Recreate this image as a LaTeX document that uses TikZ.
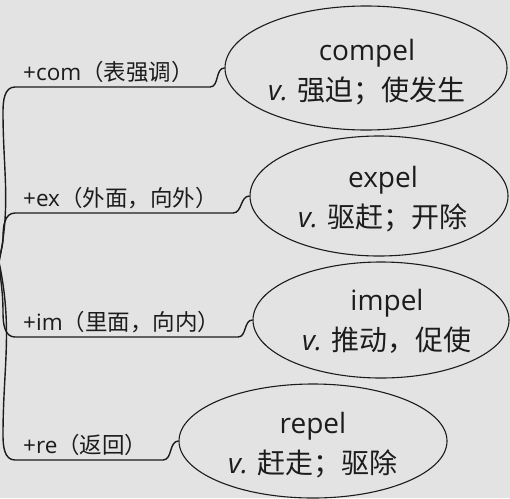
\documentclass[tikz,border=0pt]{standalone}
\usepackage{fontspec}
\setmainfont{Open Sans}
\newfontfamily\cjk{Noto Sans CJK SC}
\usetikzlibrary{shapes.geometric}
\definecolor{bg}{RGB}{227,227,227}
\definecolor{ink}{RGB}{28,28,28}
\tikzset{
  wordbox/.style={shape=ellipse, draw=ink, line width=1.1pt, inner sep=0pt},
  wordtext/.style={align=center, inner sep=0pt, text=ink, font=\fontsize{28}{40}\selectfont},
  lbl/.style={anchor=base west, inner sep=0pt, text=ink, font=\fontsize{22.5}{26}\selectfont},
  branch/.style={draw=ink, line width=1.4pt, line join=round}
}
\begin{document}
\begin{tikzpicture}[x=1pt,y=-1pt]
\fill[bg] (0,0) rectangle (510,498);
\useasboundingbox (0,0) rectangle (510,498);
\coordinate (root) at (-1,262);
% ellipses
\node[wordbox, minimum width=282pt, minimum height=124pt] (c) at (366,68) {};
\node[wordbox, minimum width=258pt, minimum height=120pt] (e) at (379,196) {};
\node[wordbox, minimum width=256pt, minimum height=116pt] (i) at (381,320) {};
\node[wordbox, minimum width=268pt, minimum height=114pt] (r) at (313,441) {};
\node[wordtext] (ct) at (367,72) {compel\\{\itshape v.} {\cjk 强迫；使发生}};
\node[wordtext] (et) at (383,199.5) {expel\\{\itshape v.} {\cjk 驱赶；开除}};
\node[wordtext] (it) at (387,321.5) {impel\\{\itshape v.} {\cjk 推动，促使}};
\node[wordtext] (rt) at (313,445.5) {repel\\{\itshape v.} {\cjk 赶走；驱除}};
% labels
\node[lbl] (lc) at (23,80) {+com{\cjk （表强调）}};
\node[lbl] (le) at (23,206) {+ex{\cjk （外面，向外）}};
\node[lbl] (li) at (23,330) {+im{\cjk （里面，向内）}};
\node[lbl] (lr) at (23,453) {+re{\cjk （返回）}};
% branches
\coordinate (cb) at (210,87);
\coordinate (eb) at (233,213);
\coordinate (ib) at (238,337);
\coordinate (rb) at (163,460);
\path[branch] (root) to[out=78,in=-90] (3,112) to[out=90,in=180] (15,87) -- (cb)
  to[out=0,in=180] (c.west);
\path[branch] (root) to[out=85,in=-90] (3,238) to[out=90,in=180] (15,213) -- (eb)
  to[out=0,in=180] (e.west);
\path[branch] (root) to[out=-85,in=90] (3,312) to[out=-90,in=180] (15,337) -- (ib)
  to[out=0,in=180] (i.west);
\path[branch] (root) to[out=-78,in=90] (3,435) to[out=-90,in=180] (15,460) -- (rb)
  to[out=0,in=180] (r.west);
\end{tikzpicture}
\end{document}
